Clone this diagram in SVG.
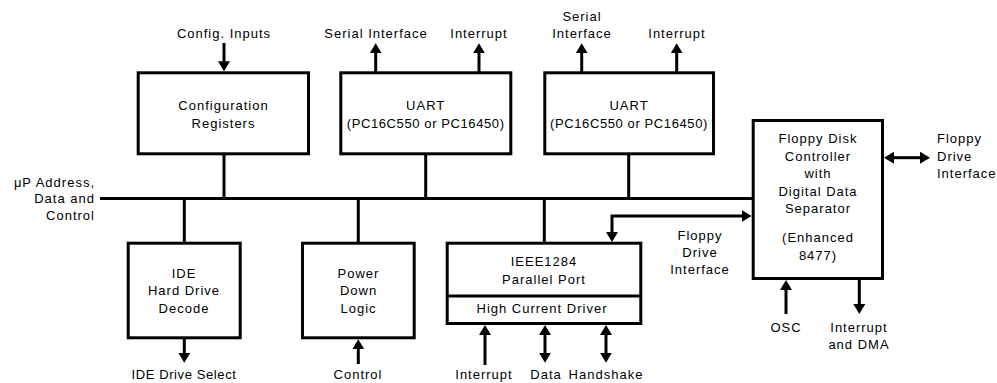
<svg xmlns="http://www.w3.org/2000/svg" width="997" height="383" viewBox="0 0 997 383">
<style>
text{font-family:"Liberation Sans",Arial,sans-serif;font-size:13px;letter-spacing:1px;fill:#000}
.c{text-anchor:middle}
.e{text-anchor:end}
.n{letter-spacing:0.6px}
.box{fill:#fff;stroke:#000;stroke-width:3}
.ln{fill:none;stroke:#000;stroke-width:3}
.ar{marker-end:url(#ah)}
.bi{marker-start:url(#ah);marker-end:url(#ah)}
</style>
<defs>
<marker id="ah" viewBox="0 0 10 12" markerUnits="userSpaceOnUse" markerWidth="10" markerHeight="12" refX="3" refY="6" orient="auto-start-reverse">
<path d="M0,0 L10,6 L0,12 z" fill="#000"/>
</marker>
</defs>
<rect width="997" height="383" fill="#fff"/>
<g id="connectors">
<path class="ln" d="M100,198.5 H752"/>
<path class="ln" d="M224,155 V198.5"/>
<path class="ln" d="M425.7,155 V198.5"/>
<path class="ln" d="M628.7,155 V198.5"/>
<path class="ln" d="M184.3,198.5 V242"/>
<path class="ln" d="M358.3,198.5 V242"/>
<path class="ln" d="M544.3,198.5 V242"/>
<path class="ln ar" d="M224,43 V64.3"/>
<path class="ln ar" d="M375.7,72 V50.3"/>
<path class="ln ar" d="M479,72 V50.3"/>
<path class="ln ar" d="M581.7,72 V50.3"/>
<path class="ln ar" d="M676.7,72 V50.3"/>
<path class="ln bi" d="M612,235 V216 H744.7"/>
<path class="ln bi" d="M891,157.7 H923"/>
<path class="ln ar" d="M786,314 V287"/>
<path class="ln ar" d="M859.3,280 V307"/>
<path class="ln ar" d="M184.3,339 V355.7"/>
<path class="ln ar" d="M358.3,364 V346.3"/>
<path class="ln ar" d="M485,365 V332"/>
<path class="ln bi" d="M545,332 V355.7"/>
<path class="ln bi" d="M606,332 V355.7"/>
</g>
<g id="labels">
<text class="c" x="224" y="38">Config. Inputs</text>
<text class="c" x="376" y="38">Serial Interface</text>
<text class="c" x="479" y="38">Interrupt</text>
<text class="c" x="582" y="20.5">Serial</text>
<text class="c" x="582" y="38">Interface</text>
<text class="c" x="677" y="38">Interrupt</text>
<text class="e" x="95" y="186.5">μP Address,</text>
<text class="e" x="95" y="203">Data and</text>
<text class="e" x="95" y="220">Control</text>
<text class="c n" x="184" y="379">IDE Drive Select</text>
<text class="c" x="358" y="379">Control</text>
<text class="c" x="484" y="379">Interrupt</text>
<text class="c" x="546" y="379">Data</text>
<text class="c" x="606" y="379">Handshake</text>
<text class="c" x="700" y="239.5">Floppy</text>
<text class="c" x="700" y="256.5">Drive</text>
<text class="c" x="700" y="273.5">Interface</text>
<text class="c" x="786" y="331.7">OSC</text>
<text class="c" x="859" y="331.7">Interrupt</text>
<text class="c" x="859" y="349.3">and DMA</text>
<text x="937" y="143.3">Floppy</text>
<text x="937" y="160.7">Drive</text>
<text x="937" y="178.3">Interface</text>
</g>
<g id="config">
<rect class="box" x="138.2" y="72.8" width="170.3" height="81"/>
<text class="c" x="223.5" y="110">Configuration</text>
<text class="c" x="223.5" y="127.5">Registers</text>
</g>
<g id="uart1">
<rect class="box" x="340.8" y="72.8" width="170" height="81"/>
<text class="c" x="425.7" y="110">UART</text>
<text class="c n" x="425.7" y="127.5">(PC16C550 or PC16450)</text>
</g>
<g id="uart2">
<rect class="box" x="544.8" y="72.8" width="168.7" height="81"/>
<text class="c" x="629" y="110">UART</text>
<text class="c n" x="629" y="127.5">(PC16C550 or PC16450)</text>
</g>
<g id="fdc">
<rect class="box" x="753.2" y="120.5" width="129.3" height="158"/>
<text class="c" x="818" y="143.3">Floppy Disk</text>
<text class="c" x="818" y="160.7">Controller</text>
<text class="c" x="818" y="178.3">with</text>
<text class="c" x="818" y="196">Digital Data</text>
<text class="c" x="818" y="212.7">Separator</text>
<text class="c" x="818" y="242.3">(Enhanced</text>
<text class="c" x="818" y="260">8477)</text>
</g>
<g id="ide">
<rect class="box" x="128.2" y="243.2" width="112" height="94.6"/>
<text class="c" x="184" y="277.7">IDE</text>
<text class="c" x="184" y="295">Hard Drive</text>
<text class="c" x="184" y="312.7">Decode</text>
</g>
<g id="power">
<rect class="box" x="302.5" y="243.2" width="111.7" height="94.6"/>
<text class="c" x="358.5" y="277.7">Power</text>
<text class="c" x="358.5" y="295">Down</text>
<text class="c" x="358.5" y="312.7">Logic</text>
</g>
<g id="parallel">
<rect class="box" x="447.2" y="243.2" width="193.6" height="80.3"/>
<path class="ln" d="M447.2,296 H640.8" stroke-width="2.5"/>
<text class="c" x="544" y="266">IEEE1284</text>
<text class="c" x="544" y="284">Parallel Port</text>
<text class="c" x="542" y="312.7">High Current Driver</text>
</g>
</svg>
